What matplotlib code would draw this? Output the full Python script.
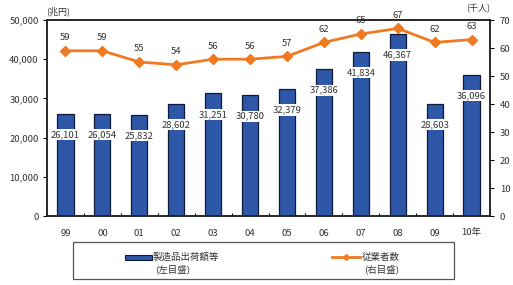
import matplotlib
matplotlib.use("Agg")
import matplotlib.pyplot as plt
from matplotlib.patches import Rectangle
from matplotlib.lines import Line2D

plt.rcParams['font.family'] = ['Noto Sans CJK JP', 'DejaVu Sans']

years = ["99", "00", "01", "02", "03", "04", "05", "06", "07", "08", "09", "10年"]
shipments = [26101, 26054, 25832, 28602, 31251, 30780, 32379, 37386, 41834, 46367, 28603, 36096]
employees = [59, 59, 55, 54, 56, 56, 57, 62, 65, 67, 62, 63]

bar_color = "#2F57A8"
line_color = "#F07A22"
txt_color = "#333333"

W, H = 513, 285
fig = plt.figure(figsize=(W / 100, H / 100), dpi=100)
ax = fig.add_axes([47 / W, 1 - 216 / H, (490 - 47) / W, (216 - 20) / H])
ax2 = ax.twinx()

x = list(range(len(years)))
ax.bar(x, shipments, width=0.44, color=bar_color, edgecolor="#0d1a3a", linewidth=0.9, zorder=2)
for xi, v in zip(x, shipments):
    ax.annotate(f"{v:,}", (xi, v), xytext=(0, -15), textcoords="offset points",
                ha="center", va="center", fontsize=6.8, color=txt_color, zorder=4,
                bbox=dict(boxstyle="square,pad=0.12", fc="white", ec="none"))

ax2.plot(x, employees, color=line_color, lw=2, marker="D", ms=5, zorder=3)
for xi, v in zip(x, employees):
    ax2.annotate(f"{v}", (xi, v), xytext=(0, 9.5), textcoords="offset points",
                 ha="center", va="center", fontsize=6.8, color=txt_color)

ax.set_xlim(-0.5, len(years) - 0.5)
ax.set_ylim(0, 50000)
ax2.set_ylim(0, 70)
ax.set_yticks(range(0, 50001, 10000))
ax.set_yticklabels([f"{v:,}" for v in range(0, 50001, 10000)])
ax2.set_yticks(range(0, 71, 10))
ax.set_xticks(x)
ax.set_xticklabels(years)
ax.set_xticks([i + 0.5 for i in x[:-1]], minor=True)
ax.tick_params(axis="x", which="major", length=0, pad=9, labelsize=6.8, labelcolor=txt_color)
ax.tick_params(axis="x", which="minor", length=2.5, direction="in", width=0.8)
ax.tick_params(axis="y", length=3, width=0.8, pad=3, labelsize=6.8, labelcolor=txt_color)
ax2.tick_params(axis="y", length=3, width=0.8, pad=4, labelsize=6.8, labelcolor=txt_color)
for a in (ax, ax2):
    for s in a.spines.values():
        s.set_linewidth(1.1)
        s.set_color("#222222")

fig.text(58 / W, 1 - 11 / H, "(兆円)", fontsize=6.5, color=txt_color, ha="center", va="center")
fig.text(478 / W, 1 - 9 / H, "(千人)", fontsize=6.5, color=txt_color, ha="center", va="center")

# legend box
fig.patches.append(Rectangle((73 / W, 1 - 279 / H), (454 - 73) / W, (279 - 242) / H,
                             transform=fig.transFigure, fill=False, ec="#555555", lw=0.9))
fig.patches.append(Rectangle((125 / W, 1 - 260 / H), 27 / W, 5 / H, transform=fig.transFigure,
                             fc=bar_color, ec="#0d1a3a", lw=0.8))
fig.text(153 / W, 1 - 257 / H, "製造品出荷額等", fontsize=6.8, color=txt_color, va="center")
fig.text(155 / W, 1 - 269 / H, "(左目盛)", fontsize=6.8, color=txt_color, va="center")
fig.lines.append(Line2D([332 / W, 346 / W, 360 / W], [1 - 257 / H] * 3, transform=fig.transFigure,
                        color=line_color, lw=2, marker="D", ms=3, markevery=[1]))
fig.text(362 / W, 1 - 257 / H, "従業者数", fontsize=6.8, color=txt_color, va="center")
fig.text(364 / W, 1 - 269 / H, "(右目盛)", fontsize=6.8, color=txt_color, va="center")

fig.savefig("out.png", dpi=100)
